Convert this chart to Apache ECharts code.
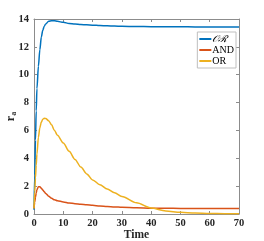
<!DOCTYPE html>
<html><head><meta charset="utf-8">
<script src="https://cdn.jsdelivr.net/npm/echarts@6/dist/echarts.min.js"></script>
<style>html,body{margin:0;padding:0;background:#fff}#c{width:264px;height:241px}</style>
</head><body><div id="c"></div>
<script>
var seriesNames = ['\u{1D4AA}\u211B', 'AND', 'OR'];
var time = [0, 0.25, 0.5, 0.75, 1, 1.5, 2, 2.5, 3, 3.5, 4, 5, 6, 7, 8, 10, 12, 14, 16, 18, 20, 22.5, 25, 27.5, 30, 35, 40, 45, 50, 55, 60, 65, 70];
var calOR = [0.3, 2.8, 5.3, 7.4, 9.0, 10.6, 11.8, 12.7, 13.2, 13.48, 13.65, 13.83, 13.88, 13.87, 13.83, 13.76, 13.68, 13.64, 13.6, 13.58, 13.56, 13.53, 13.51, 13.49, 13.48, 13.46, 13.45, 13.44, 13.44, 13.43, 13.43, 13.43, 13.43];
var andV = [0.4, 0.85, 1.2, 1.5, 1.75, 1.95, 1.95, 1.85, 1.72, 1.6, 1.48, 1.28, 1.13, 1.02, 0.95, 0.87, 0.79, 0.74, 0.7, 0.66, 0.62, 0.58, 0.54, 0.51, 0.48, 0.45, 0.42, 0.41, 0.4, 0.4, 0.4, 0.4, 0.4];
var orV = [0.4, 1.6, 2.6, 3.5, 4.3, 5.5, 6.2, 6.6, 6.8, 6.87, 6.85, 6.7, 6.4, 6.0, 5.65, 5.1, 4.5, 3.92, 3.37, 2.88, 2.45, 2.1, 1.8, 1.52, 1.26, 0.8, 0.43, 0.22, 0.12, 0.07, 0.04, 0.02, 0.01];
var xTicks = [0, 10, 20, 30, 40, 50, 60, 70];
var yTicks = [0, 2, 4, 6, 8, 10, 12, 14];

function pairs(v){ return time.map(function(t,i){return [t, v[i]];}); }
var colors = ['#0072BD', '#D95319', '#EDB120'];
var font = 'Liberation Serif';
var axisLineStyle = {color:'#8c8c8c', width:1};
var chart = echarts.init(document.getElementById('c'), null, {renderer:'canvas'});
var baseX = {type:'value', min:xTicks[0], max:xTicks[xTicks.length-1], interval:10,
  axisLine:{show:true, onZero:false, lineStyle:axisLineStyle},
  axisTick:{show:true, inside:true, length:3, lineStyle:axisLineStyle},
  splitLine:{show:false}};
var baseY = {type:'value', min:yTicks[0], max:yTicks[yTicks.length-1], interval:2,
  axisLine:{show:true, onZero:false, lineStyle:axisLineStyle},
  axisTick:{show:true, inside:true, length:3, lineStyle:axisLineStyle},
  splitLine:{show:false}};
chart.setOption({
  animation:false,
  color:colors,
  grid:{left:34, right:25, top:19, bottom:27, containLabel:false, outerBoundsMode:'none'},
  xAxis:[
    Object.assign({}, baseX, {position:'bottom',
      axisLabel:{color:'#262626', fontFamily:font, fontWeight:'bold', fontSize:10.5, margin:4},
      name:'Time', nameLocation:'middle', nameGap:15, nameMoveOverlap:false,
      nameTextStyle:{color:'#262626', fontFamily:font, fontWeight:'bold', fontSize:11.5}}),
    Object.assign({}, baseX, {position:'top', axisLabel:{show:false}})
  ],
  yAxis:[
    Object.assign({}, baseY, {position:'left',
      axisLabel:{color:'#262626', fontFamily:font, fontWeight:'bold', fontSize:10.5, margin:5},
      name:'{r|r}{a|a}', nameLocation:'middle', nameGap:16, nameMoveOverlap:false,
      nameTextStyle:{color:'#262626', fontFamily:font, fontWeight:'bold', fontSize:12,
        rich:{r:{fontFamily:font, fontWeight:'bold', fontSize:12, color:'#262626'},
              a:{fontFamily:font, fontWeight:'bold', fontSize:8, color:'#262626', padding:[6,0,0,0]}}}}),
    Object.assign({}, baseY, {position:'right', axisLabel:{show:false}})
  ],
  legend:{show:true, right:28, top:32, orient:'vertical', itemWidth:12, itemHeight:2, itemGap:1,
    padding:[2,2,2,1], backgroundColor:'#fff', borderColor:'#bfbfbf', borderWidth:1, borderRadius:0,
    textStyle:{fontFamily:font, fontSize:10, color:'#000', padding:[0,0,0,-4], lineHeight:10},
    data:[{name:seriesNames[0], textStyle:{fontStyle:'italic'}}, seriesNames[1], seriesNames[2]]},
  series:[
    {name:seriesNames[0], type:'line', data:pairs(calOR), smooth:0.3, smoothMonotone:'x', symbol:'none', lineStyle:{width:1.5}},
    {name:seriesNames[1], type:'line', data:pairs(andV), smooth:0.3, smoothMonotone:'x', symbol:'none', lineStyle:{width:1.5}},
    {name:seriesNames[2], type:'line', data:pairs(orV), smooth:0.3, smoothMonotone:'x', symbol:'none', lineStyle:{width:1.5}}
  ]
});
</script></body></html>
